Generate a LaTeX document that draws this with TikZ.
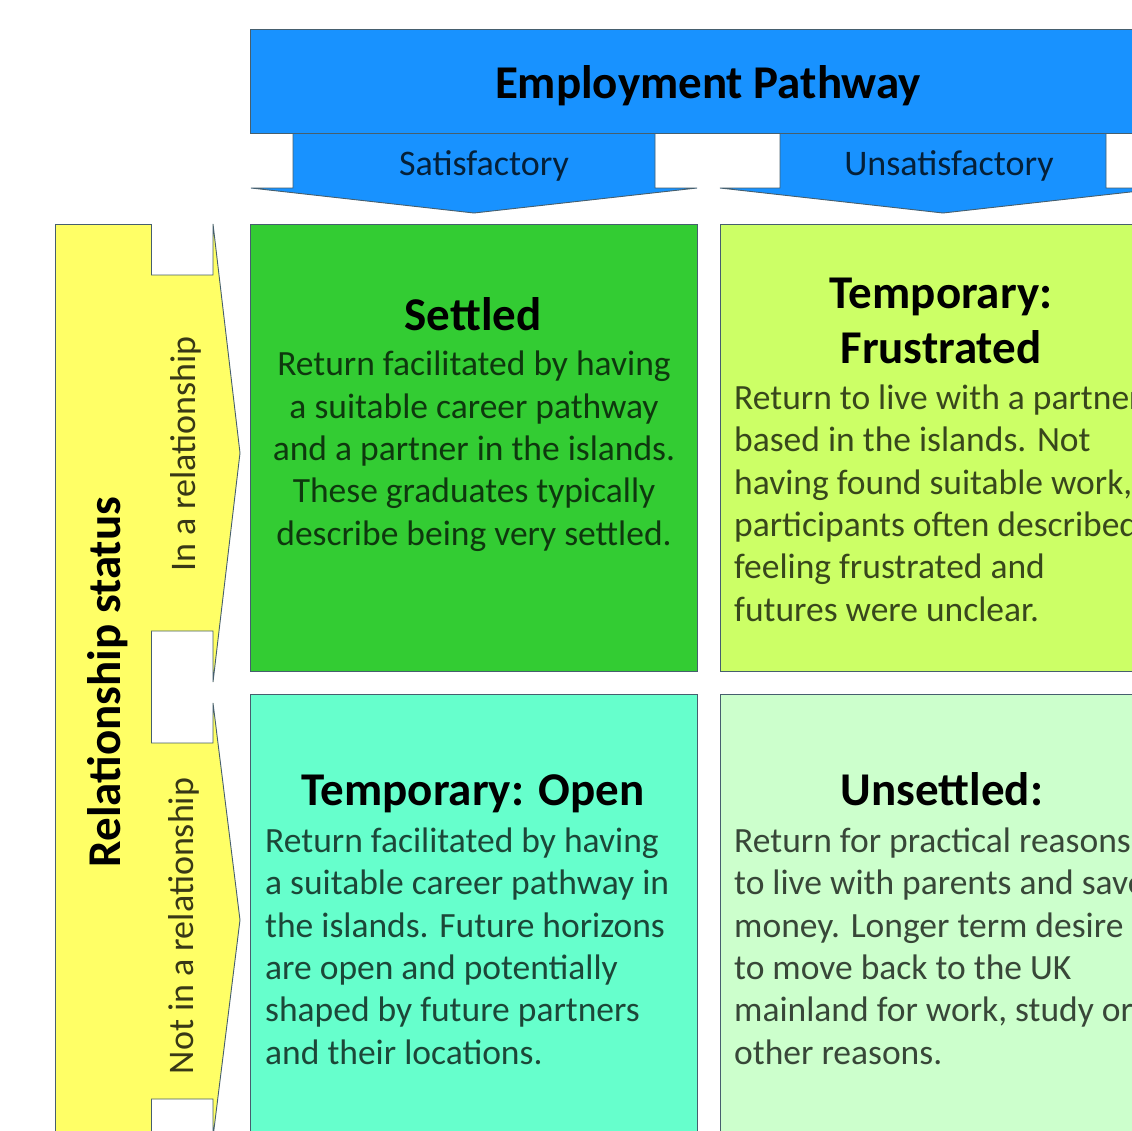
\documentclass[tikz,border=0pt]{standalone}
\usepackage{fontspec}
\setmainfont{Carlito}
\definecolor{pathblue}{RGB}{24,146,255}
\definecolor{statyellow}{RGB}{255,255,102}
\definecolor{settledgreen}{RGB}{51,204,51}
\definecolor{frustlime}{RGB}{204,255,102}
\definecolor{openaqua}{RGB}{102,255,204}
\definecolor{unsetpale}{RGB}{204,255,204}
\definecolor{edgegray}{RGB}{70,95,110}
\begin{document}
\begin{tikzpicture}[x=1pt,y=-1pt,
  outline/.style={draw=edgegray,line width=0.9pt},
  cell/.style={outline,rectangle,inner sep=0pt,anchor=north west,minimum height=447pt},
  title/.style={font=\bfseries\fontsize{47}{55}\selectfont,inner sep=0pt,text=black},
  body/.style={font=\fontsize{35.5}{42.3}\selectfont,inner sep=0pt,text=black,text opacity=0.72},
  tag/.style={font=\fontsize{36}{42}\selectfont,inner sep=0pt,text=black,text opacity=0.78,anchor=base}
]
\useasboundingbox (0,0) rectangle (1132,1130);
\clip (0,0) rectangle (1132,1130);
\fill[white] (0,0) rectangle (1132,1130);

% column arrows under the employment banner
\draw[outline,fill=pathblue] (293,133) -- (655,133) -- (655,188) -- (697,188)
  -- (474,213) -- (251,188) -- (293,188) -- cycle;
\draw[outline,fill=pathblue] (780,133) -- (1106,133) -- (1106,188) -- (1166,188)
  -- (943,213) -- (720,188) -- (780,188) -- cycle;
\node[tag] (sat) at (484,175) {Satisfactory};
\node[tag] (unsat) at (949,175) {Unsatisfactory};

% employment banner
\node[outline,fill=pathblue,rectangle,inner sep=0pt,anchor=north west,
  minimum width=930pt,minimum height=104pt] (banner) at (250,29) {};
\node[title,anchor=base] (bannertext) at (708,98) {Employment Pathway};

% relationship column
\node[outline,fill=statyellow,rectangle,inner sep=0pt,anchor=north west,
  minimum width=96pt,minimum height=930pt] (status) at (55,224) {};
\node[title,rotate=90,anchor=base] (statustext) at (120,682) {Relationship status};

% row arrows
\draw[outline,fill=statyellow] (151,275) -- (213,275) -- (213,224) -- (240,453)
  -- (213,682) -- (213,631) -- (151,631);
\draw[outline,fill=statyellow] (151,743) -- (213,743) -- (213,703) -- (240,920)
  -- (213,1137) -- (213,1099) -- (151,1099);
\node[tag,rotate=90] (inrel) at (195,454) {In a relationship};
\node[tag,rotate=90] (notrel) at (193,926) {Not in a relationship};

% the four outcome cells
\node[cell,fill=settledgreen,minimum width=447pt] (settled) at (250,224) {};
\node[cell,fill=frustlime,minimum width=443pt] (frustrated) at (720,224) {};
\node[cell,fill=openaqua,minimum width=447pt] (open) at (250,694) {};
\node[cell,fill=unsetpale,minimum width=443pt] (unsettled) at (720,694) {};

% texts: a multi-line node sits on the baseline of its last line
\node[title,anchor=base] (settledtitle) at (473,330) {Settled};
\node[body,align=center,anchor=base] (settledbody) at (474,545)
  {Return facilitated by having\\a suitable career pathway\\and a partner in the islands.\\These graduates typically\\describe being very settled.};

\node[title,align=center,anchor=base] (frustratedtitle) at (941,363) {Temporary:\\Frustrated};
\node[body,align=left,anchor=base west] (frustratedbody) at (734,621)
  {Return to live with a partner\\based in the islands. Not\\having found suitable work,\\participants often described\\feeling frustrated and\\futures were unclear.};

\node[title,anchor=base] (opentitle) at (473,805) {Temporary: Open};
\node[body,align=left,anchor=base west] (openbody) at (265,1064)
  {Return facilitated by having\\a suitable career pathway in\\the islands. Future horizons\\are open and potentially\\shaped by future partners\\and their locations.};

\node[title,anchor=base] (unsettledtitle) at (942,805) {Unsettled:};
\node[body,align=left,anchor=base west] (unsettledbody) at (734,1064)
  {Return for practical reasons\\to live with parents and save\\money. Longer term desire\\to move back to the UK\\mainland for work, study or\\other reasons.};
\end{tikzpicture}
\end{document}
